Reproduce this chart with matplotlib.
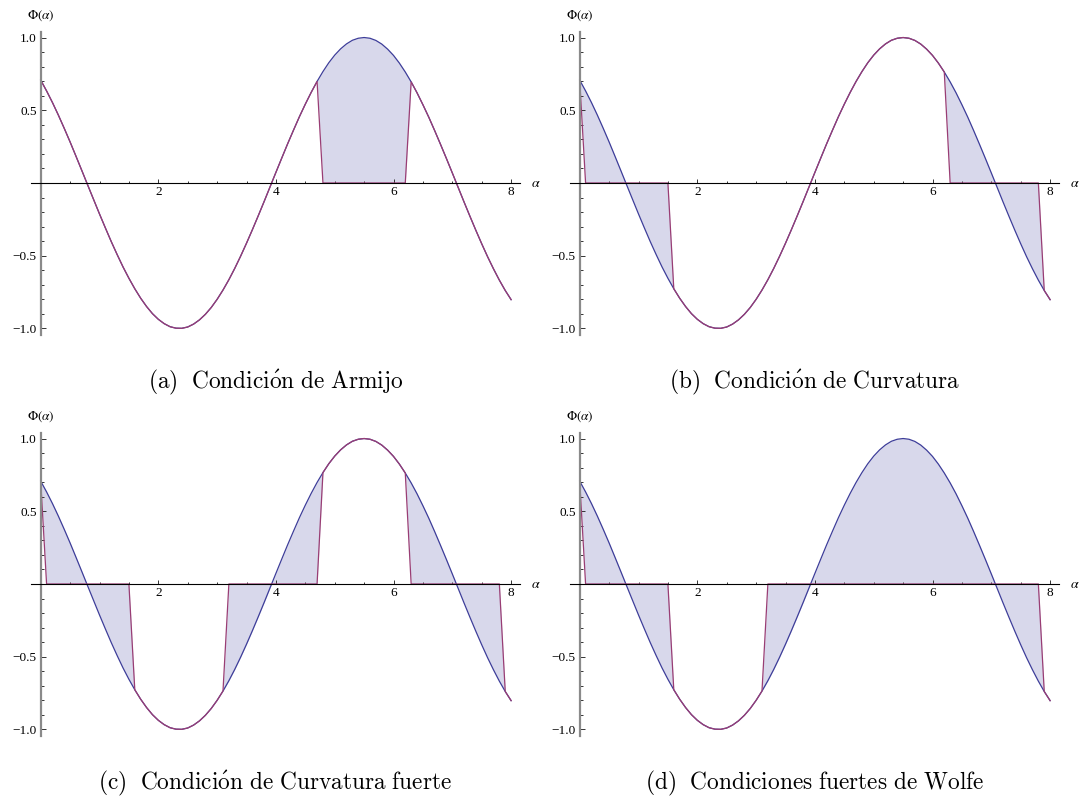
import numpy as np
import matplotlib.pyplot as plt
from matplotlib.ticker import FixedLocator

# sample points of the line search and the value of Phi at each of them
alpha = np.round(np.arange(0, 8.01, 0.1), 1)
phi = [0.707, 0.633, 0.553, 0.467, 0.376, 0.282, 0.184, 0.085, -0.015, -0.114,
       -0.213, -0.309, -0.403, -0.492, -0.577, -0.655, -0.727, -0.792, -0.849, -0.898,
       -0.937, -0.967, -0.988, -0.998, -0.999, -0.990, -0.970, -0.941, -0.903, -0.856,
       -0.800, -0.736, -0.665, -0.587, -0.503, -0.414, -0.321, -0.225, -0.127, -0.027,
       0.073, 0.172, 0.270, 0.364, 0.456, 0.542, 0.623, 0.698, 0.766, 0.827,
       0.879, 0.922, 0.956, 0.981, 0.995, 1.000, 0.995, 0.980, 0.955, 0.920,
       0.877, 0.824, 0.763, 0.695, 0.620, 0.538, 0.452, 0.360, 0.265, 0.168,
       0.069, -0.031, -0.131, -0.229, -0.325, -0.418, -0.507, -0.590, -0.668, -0.739,
       -0.802]
phi = np.array(phi)

# stretches of alpha (first and last sample) that fall into the shaded set
tramos_a = [(4.8, 6.2)]
tramos_b = [(0.1, 1.5), (6.3, 7.8)]
tramos_c = [(0.1, 1.5), (3.2, 4.7), (6.3, 7.8)]
tramos_d = [(0.1, 1.5), (3.2, 7.8)]

titulos = [r"$\mathrm{(a)\ \ Condici\acute{o}n\ de\ Armijo}$",
           r"$\mathrm{(b)\ \ Condici\acute{o}n\ de\ Curvatura}$",
           r"$\mathrm{(c)\ \ Condici\acute{o}n\ de\ Curvatura\ fuerte}$",
           r"$\mathrm{(d)\ \ Condiciones\ fuertes\ de\ Wolfe}$"]

azul = "#3d3d99"
morado = "#993d74"
relleno = "#d8d8eb"

plt.rcParams["mathtext.fontset"] = "cm"
fig = plt.figure(figsize=(10.81, 7.98), dpi=100)

W, H = 1081, 798
cajas = [(31, 32), (570, 32), (31, 433), (570, 433)]
ancho, alto = 489, 303

for (x0, y0), tramos, titulo in zip(cajas, [tramos_a, tramos_b, tramos_c, tramos_d], titulos):
    ax = fig.add_axes([x0 / W, 1 - (y0 + alto) / H, ancho / W, alto / H])

    dentro = np.zeros(len(alpha), dtype=bool)
    for ini, fin in tramos:
        dentro |= (alpha >= ini - 1e-9) & (alpha <= fin + 1e-9)
    recorte = np.where(dentro, 0.0, phi)

    # the axis line is drawn over the clipped curve where it sits at zero
    ax.fill_between(alpha, phi, recorte, color=relleno, lw=0, zorder=1)
    ax.plot(alpha, phi, color=azul, lw=0.9, zorder=1.8)
    ax.plot(alpha, recorte, color=morado, lw=0.9, zorder=2)

    ax.set_xlim(-0.165, 8.151)
    ax.set_ylim(-1.045, 1.038)

    for s in ["top", "right"]:
        ax.spines[s].set_visible(False)
    ax.spines["left"].set_position(("data", 0))
    ax.spines["bottom"].set_position(("data", 0))
    ax.spines["left"].set_color("#8a8a8a")
    ax.spines["left"].set_linewidth(1.6)
    ax.spines["bottom"].set_color("black")
    ax.spines["bottom"].set_linewidth(0.8)

    ax.xaxis.set_major_locator(FixedLocator([2, 4, 6, 8]))
    ax.xaxis.set_minor_locator(FixedLocator([v for v in np.arange(0.5, 8, 0.5) if v % 2 != 0]))
    ax.yaxis.set_major_locator(FixedLocator([-1.0, -0.5, 0.5, 1.0]))
    ax.yaxis.set_minor_locator(FixedLocator([v for v in np.round(np.arange(-1, 1.01, 0.1), 1)
                                             if v % 0.5 != 0]))
    ax.set_xticklabels(["2", "4", "6", "8"])
    ax.set_yticklabels(["\u22121.0", "\u22120.5", "0.5", "1.0"])

    ax.tick_params(axis="both", which="both", direction="in", color="#333333", width=0.7)
    ax.tick_params(axis="x", which="major", length=3, pad=2.5)
    ax.tick_params(axis="x", which="minor", length=1.8)
    ax.tick_params(axis="y", which="major", length=3.5, pad=3)
    ax.tick_params(axis="y", which="minor", length=2)
    for lab in ax.get_xticklabels() + ax.get_yticklabels():
        lab.set_fontfamily("Liberation Serif")
        lab.set_fontsize(9.5)

    ax.text(0, 1.148, r"$\Phi(\alpha)$", ha="center", va="center", fontsize=9.5,
            math_fontfamily="stix", clip_on=False)
    ax.text(8.42, 0, r"$\alpha$", ha="center", va="center", fontsize=10,
            math_fontfamily="stix", clip_on=False)
    ax.text(0.5, -0.158, titulo, transform=ax.transAxes, ha="center", va="center",
            fontsize=16.8)

fig.savefig("out.png", dpi=100)
